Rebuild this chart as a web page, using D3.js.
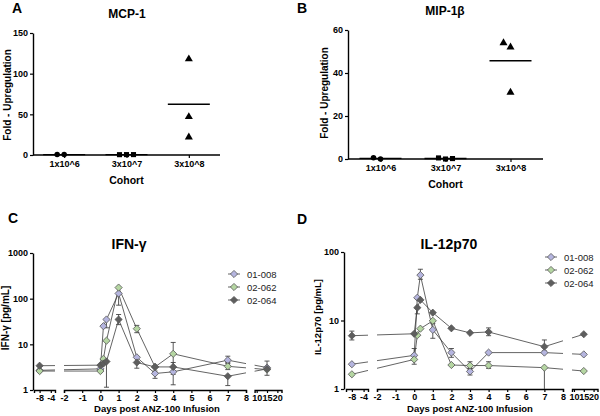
<!DOCTYPE html>
<html><head><meta charset="utf-8">
<script src="https://cdn.jsdelivr.net/npm/d3@7"></script>
<style>
body{margin:0;background:#fff}
svg{display:block}
text{font-family:"Liberation Sans",Arial,Helvetica,sans-serif}
</style></head>
<body><svg id="chart" width="600" height="416"></svg>
<script>
// ---------------- DATA ----------------
const cohorts = ["1x10^6", "3x10^7", "3x10^8"];
// Panel A: MCP-1 fold upregulation per cohort
const mcp1_c1 = [0.5, 0.5];
const mcp1_c2 = [0.5, 0.4, 0.5];
const mcp1_c3 = [118, 47, 22];
const mcp1Ticks = [0, 50, 100, 150];
// Panel B: MIP-1β fold upregulation per cohort
const mip_c1 = [0, 0.6];
const mip_c2 = [0, 0.5, 0.2];
const mip_c3 = [31, 52, 54];
const mipTicks = [0, 20, 40, 60];

// Panels C and D: time course
const days = [-8, 0, 0.167, 0.333, 1, 2, 3, 4, 7, 15];
const patients = ["01-008", "02-062", "02-064"];
const dayTicks1 = [-8, -4];
const dayTicks2 = [-2, -1, 0, 1, 2, 3, 4, 5, 6, 7, 8];
const dayTicks3 = [10, 15, 20];

// IFN-γ [pg/mL]
const ifn_01008 = [2.7, 2.9, 25, 35, 130, 5.2, 2.3, 2.5, 4.5, 3.1];
const ifn_02062 = [2.6, 2.6, 4.8, 12, 175, 22, 3.2, 6.2, 3.3, 2.8];
const ifn_02064 = [3.4, 3.5, 3.8, 4.2, 35, 4.0, 3.2, 3.2, 2.0, 2.9];
const ifn_01008_lo = [null, null, null, 23, 72, null, 1.8, null, 4.0, null];
const ifn_01008_hi = [null, null, null, null, null, null, 2.6, null, 5.5, 4.3];
const ifn_02062_lo = [null, null, null, null, null, 18, null, 1.3, 2.8, null];
const ifn_02062_hi = [null, null, null, null, null, 26, null, 11, 3.8, null];
const ifn_02064_lo = [null, null, null, 1.15, 27, 3.0, null, 2.2, 1.25, 2.1];
const ifn_02064_hi = [null, null, null, null, 45, null, null, 4.0, null, null];
const ifnTicks = [1, 10, 100, 1000];

// IL-12p70 [pg/mL]
const il_01008 = [2.3, 3.1, 21.5, 46, 7.3, 3.4, 1.8, 3.4, 3.4, 3.2];
const il_02062 = [1.64, 2.7, 6.1, 7.6, 9.9, 2.24, 2.2, 2.2, 2.05, 1.83];
const il_02064 = [6.0, 6.4, 15.4, 20, 13, 7.7, 6.6, 6.8, 4.15, 6.3];
const il_01008_lo = [null, null, null, 40, 5.5, 2.9, 1.6, null, null, null];
const il_01008_hi = [null, 3.9, null, 56, 9, 3.9, 2.0, null, null, null];
const il_02062_lo = [null, 2.3, null, null, null, null, 2.0, 2.0, 1.0, null];
const il_02062_hi = [null, 3.1, null, null, null, null, 2.5, 2.5, null, null];
const il_02064_lo = [5.2, null, 12.5, null, null, null, null, 6.0, 3.6, null];
const il_02064_hi = [7.0, null, null, null, null, null, null, 7.8, 5.2, null];
const ilTicks = [1, 10, 100];

// ---------------- DRAWING ----------------
const svg = d3.select("#chart");
const FONT = '"Liberation Sans",Arial,Helvetica,sans-serif';
const fills = ["#b5b5df", "#b5d6a2", "#5e5e5e"];

function txt(x, y, s, size, weight, anchor, rot) {
  const t = svg.append("text").attr("x", x).attr("y", y).text(s)
    .attr("font-size", size).attr("font-weight", weight || "normal")
    .attr("text-anchor", anchor || "start").attr("fill", "#000");
  if (rot) t.attr("transform", `rotate(${rot},${x},${y})`);
  return t;
}

function styleAxis(g) {
  g.selectAll("path").attr("stroke", "#000").attr("stroke-width", 1.4);
  g.selectAll("line").attr("stroke", "#000").attr("stroke-width", 1.2);
  g.selectAll("text").attr("font-size", 9).attr("font-weight", "bold")
    .attr("font-family", FONT).attr("fill", "#000");
}

// ---- column scatter panels ----
function scatterPanel(p) {
  const x = d3.scalePoint().domain(cohorts).range([p.x0, p.x1]).padding(0.5);
  const y = d3.scaleLinear().domain([0, p.ymax]).range([p.yb, p.yt]);
  const gy = svg.append("g").attr("transform", `translate(${p.x0},0)`)
    .call(d3.axisLeft(y).tickValues(p.ticks).tickSize(3).tickPadding(2).tickSizeOuter(0));
  styleAxis(gy);
  const gx = svg.append("g").attr("transform", `translate(0,${p.yb})`)
    .call(d3.axisBottom(x).tickSize(3).tickPadding(3).tickSizeOuter(0));
  gx.select("path").attr("d", `M${p.x0},0H${p.x1}`);
  styleAxis(gx);
  const shapes = [d3.symbolCircle, d3.symbolSquare, d3.symbolTriangle];
  const sizes = [24, 26, 28];
  const w = 7;
  p.groups.forEach((vals, gi) => {
    const cx = x(cohorts[gi]);
    const placed = [];
    vals.forEach(v => {
      const py = y(v);
      const slots = [0, -w, w, -2 * w, 2 * w];
      let off = 0;
      for (const s of slots) {
        if (!placed.some(q => Math.abs(q.x - s) < 1 && Math.abs(q.y - py) < 6)) { off = s; break; }
      }
      placed.push({x: off, y: py});
      svg.append("path").attr("d", d3.symbol().type(shapes[gi]).size(sizes[gi])())
        .attr("transform", `translate(${cx + off},${py})`).attr("fill", "#000");
    });
    const m = d3.mean(vals);
    svg.append("line").attr("x1", cx - 21).attr("x2", cx + 21)
      .attr("y1", y(m)).attr("y2", y(m)).attr("stroke", "#000").attr("stroke-width", 1.4);
  });
  txt(p.titleX, p.titleY, p.title, 12, "bold", "middle");
  txt(p.letterX, p.letterY, p.letter, 14, "bold", "start");
  txt(p.ylabX, p.ylabY, "Fold - Upregulation", 10, "bold", "middle", -90);
  txt((p.x0 + p.x1) / 2, p.cohY, "Cohort", 10.5, "bold", "middle");
}

scatterPanel({x0: 33, x1: 220, yt: 33, yb: 155, ymax: 150, ticks: mcp1Ticks,
  groups: [mcp1_c1, mcp1_c2, mcp1_c3], title: "MCP-1", titleX: 127, titleY: 18,
  letter: "A", letterX: 12, letterY: 13, ylabX: 11, ylabY: 95, cohY: 184});
scatterPanel({x0: 348, x1: 543, yt: 30, yb: 159, ymax: 60, ticks: mipTicks,
  groups: [mip_c1, mip_c2, mip_c3], title: "MIP-1β", titleX: 445, titleY: 15,
  letter: "B", letterX: 297, letterY: 13, ylabX: 328, ylabY: 93, cohY: 188});

// ---- time course panels ----
const diamond = {
  draw(ctx, size) {
    const r = Math.sqrt(size / 2);
    ctx.moveTo(0, -r); ctx.lineTo(r, 0); ctx.lineTo(0, r); ctx.lineTo(-r, 0); ctx.closePath();
  }
};

let clipId = 0;
function timePanel(p) {
  const segs = p.segs.map((s, i) => ({
    scale: d3.scaleLinear().domain(s.dom).range(s.rng),
    ticks: [dayTicks1, dayTicks2, dayTicks3][i]
  }));
  const xPos = d => {
    const s = segs.find(s => d >= s.scale.domain()[0] && d <= s.scale.domain()[1]);
    return s.scale(d);
  };
  const y = d3.scaleLog().domain([1, p.ymax]).range([p.yb, p.yt]);

  const gy = svg.append("g").attr("transform", `translate(${p.x0},0)`)
    .call(d3.axisLeft(y).tickValues(p.ticks).tickFormat(d => String(d)).tickSize(3).tickPadding(2).tickSizeOuter(0));
  styleAxis(gy);
  segs.forEach(s => {
    const g = svg.append("g").attr("transform", `translate(0,${p.yb})`)
      .call(d3.axisBottom(s.scale).tickValues(s.ticks).tickFormat(d => String(d)).tickSize(3).tickSizeOuter(3).tickPadding(1.5));
    styleAxis(g);
  });

  const id = "clip" + (clipId++);
  const cp = svg.append("clipPath").attr("id", id);
  p.segs.forEach(s => cp.append("rect").attr("x", s.rng[0]).attr("width", s.rng[1] - s.rng[0])
    .attr("y", p.yt - 20).attr("height", p.yb - p.yt + 20));

  const line = d3.line().x(d => xPos(d.d)).y(d => y(d.v));
  const sym = d3.symbol().type(diamond).size(26);

  p.series.forEach((ser, si) => {
    const pts = days.map((d, i) => ({d, v: ser.v[i], lo: ser.lo[i], hi: ser.hi[i]}));
    svg.append("path").datum(pts).attr("d", line).attr("fill", "none")
      .attr("stroke", "#3c3c3c").attr("stroke-width", 0.8).attr("clip-path", `url(#${id})`);
    pts.forEach(pt => {
      if (pt.lo == null && pt.hi == null) return;
      const px = xPos(pt.d);
      const yl = y(Math.max(1, pt.lo == null ? pt.v : pt.lo));
      const yh = y(pt.hi == null ? pt.v : pt.hi);
      svg.append("line").attr("x1", px).attr("x2", px).attr("y1", yl).attr("y2", yh)
        .attr("stroke", "#444").attr("stroke-width", 0.9);
      if (pt.lo != null && pt.lo > 1) svg.append("line").attr("x1", px - 2.5).attr("x2", px + 2.5)
        .attr("y1", yl).attr("y2", yl).attr("stroke", "#444").attr("stroke-width", 0.9);
      if (pt.hi != null) svg.append("line").attr("x1", px - 2.5).attr("x2", px + 2.5)
        .attr("y1", yh).attr("y2", yh).attr("stroke", "#444").attr("stroke-width", 0.9);
    });
  });
  p.series.forEach((ser, si) => {
    days.forEach((d, i) => {
      svg.append("path").attr("d", sym).attr("transform", `translate(${xPos(d)},${y(ser.v[i])})`)
        .attr("fill", fills[si]).attr("stroke", "#555").attr("stroke-width", 0.8);
    });
  });

  // legend
  patients.forEach((name, i) => {
    const ly = p.legY + i * 13;
    svg.append("line").attr("x1", p.legX - 6).attr("x2", p.legX + 6).attr("y1", ly).attr("y2", ly)
      .attr("stroke", "#3c3c3c").attr("stroke-width", 0.8);
    svg.append("path").attr("d", sym).attr("transform", `translate(${p.legX},${ly})`)
      .attr("fill", fills[i]).attr("stroke", "#555").attr("stroke-width", 0.8);
    txt(p.legX + 13, ly + 3.5, name, 9.5, "normal", "start").attr("fill", "#222");
  });

  txt(p.titleX, p.titleY, p.title, 14, "bold", "middle");
  txt(p.letterX, p.letterY, p.letter, 14, "bold", "start");
  txt(p.ylabX, p.ylabY, p.ylab, p.ylabSize, "bold", "middle", -90);
  txt(p.xlabX, p.xlabY, "Days post ANZ-100 Infusion", 9.5, "bold", "middle");
}

timePanel({x0: 33, yt: 253, yb: 390, ymax: 1000, ticks: ifnTicks,
  segs: [{dom: [-10, -2.5], rng: [34, 55]}, {dom: [-2, 8], rng: [64, 246]}, {dom: [9, 22], rng: [254.6, 281.5]}],
  series: [
    {v: ifn_01008, lo: ifn_01008_lo, hi: ifn_01008_hi},
    {v: ifn_02062, lo: ifn_02062_lo, hi: ifn_02062_hi},
    {v: ifn_02064, lo: ifn_02064_lo, hi: ifn_02064_hi}],
  legX: 234, legY: 274, title: "IFN-γ", titleX: 129, titleY: 249,
  letter: "C", letterX: 8, letterY: 223, ylab: "IFN-γ [pg/mL]", ylabSize: 10, ylabX: 9, ylabY: 318,
  xlabX: 157, xlabY: 412});

timePanel({x0: 344, yt: 252, yb: 389, ymax: 100, ticks: ilTicks,
  segs: [{dom: [-10, -2.5], rng: [346, 368]}, {dom: [-2, 8], rng: [377, 563]}, {dom: [9, 22], rng: [572, 597.5]}],
  series: [
    {v: il_01008, lo: il_01008_lo, hi: il_01008_hi},
    {v: il_02062, lo: il_02062_lo, hi: il_02062_hi},
    {v: il_02064, lo: il_02064_lo, hi: il_02064_hi}],
  legX: 551, legY: 257, title: "IL-12p70", titleX: 449, titleY: 249,
  letter: "D", letterX: 297, letterY: 224, ylab: "IL-12p70 [pg/mL]", ylabSize: 9.5, ylabX: 321, ylabY: 317,
  xlabX: 470, xlabY: 412});
</script></body></html>
